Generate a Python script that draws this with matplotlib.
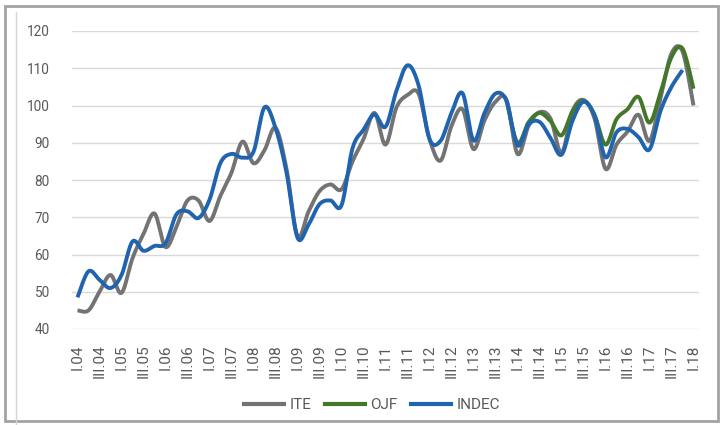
import numpy as np
import matplotlib
matplotlib.use('Agg')
import matplotlib.pyplot as plt
import matplotlib.transforms as mtransforms
from matplotlib.patches import Rectangle
from matplotlib.lines import Line2D

# ---- data (quarterly, I.04 .. I.18) ----
tick_labels = ['I.04', 'III.04', 'I.05', 'III.05', 'I.06', 'III.06', 'I.07', 'III.07',
               'I.08', 'III.08', 'I.09', 'III.09', 'I.10', 'III.10', 'I.11', 'III.11',
               'I.12', 'III.12', 'I.13', 'III.13', 'I.14', 'III.14', 'I.15', 'III.15',
               'I.16', 'III.16', 'I.17', 'III.17', 'I.18']

ite = [45, 45, 50, 54.5, 49.7, 59, 65.5, 71, 62, 67.5,
       74.5, 74.5, 69, 75.8, 82, 90.3, 84.5, 88, 94, 83,
       65, 71.5, 77, 78.8, 77.5, 85, 91, 98, 89.5, 99.5,
       102.8, 103.2, 91, 85.2, 94.5, 99, 88.3, 96, 101, 101.5,
       87, 94.5, 98.2, 96.5, 87.3, 98.5, 101.5, 96.5, 83, 89.5,
       93, 97.5, 90.5, 102, 114, 114.5, 100]

ojf = [None] * 39 + [101.3, 90, 95.5, 98, 95.8, 92, 98.5, 101.2, 97.5, 89.5,
                     96.3, 99, 102.3, 95.4, 103.5, 113, 115.3, 104.5]

indec = [48.5, 55.5, 53.2, 51, 54.5, 63.5, 61, 62.3, 63, 70.8,
         71.6, 69.8, 74.7, 84.6, 87, 86, 87.6, 99.5, 94, 82,
         64.5, 68, 73.5, 74.5, 73.2, 88.5, 93.5, 97.6, 94.3, 104,
         110.8, 105.5, 91, 90.5, 98, 103.3, 90.6, 98, 103.2, 101.2,
         89.3, 94.9, 95.6, 91.3, 86.8, 95.9, 101, 97.3, 86.1, 92.8,
         93.7, 91.5, 88.2, 98.5, 105, 109.5, None]

series = [('ITE', ite, '#737373'), ('OJF', ojf, '#43782a'), ('INDEC', indec, '#2064b0')]


def smooth_xy(xs, ys, n=24):
    """Catmull-Rom (Excel-like) smoothing through the given points."""
    pts = np.column_stack([xs, ys]).astype(float)
    m = len(pts)
    out = [pts[0]]
    t = np.linspace(0, 1, n + 1)[1:]
    for i in range(m - 1):
        p0 = pts[i - 1] if i > 0 else pts[i]
        p1 = pts[i]
        p2 = pts[i + 1]
        p3 = pts[i + 2] if i + 2 < m else pts[i + 1]
        c1 = p1 + (p2 - p0) / 6.0
        c2 = p2 - (p3 - p1) / 6.0
        tt = t[:, None]
        seg = ((1 - tt) ** 3) * p1 + 3 * ((1 - tt) ** 2) * tt * c1 + 3 * (1 - tt) * tt ** 2 * c2 + tt ** 3 * p2
        out.extend(seg)
    out = np.array(out)
    return out[:, 0], out[:, 1]


fig = plt.figure(figsize=(7.2, 4.25), dpi=100)
ax = fig.add_axes([72 / 720, 1 - 329 / 425, (699 - 72) / 720, (329 - 31) / 425])

text_col = '#595959'
fam = ['Roboto', 'DejaVu Sans']

for name, vals, col in series:
    xs = [i for i, v in enumerate(vals) if v is not None]
    ys = [v for v in vals if v is not None]
    sx, sy = smooth_xy(xs, ys)
    ax.plot(sx, sy, color=col, lw=2.8, solid_capstyle='butt', solid_joinstyle='round', label=name)

n = len(ite)
ax.set_xlim(-0.5, n - 0.5)
ax.set_ylim(40, 120)
ax.set_yticks(np.arange(40, 121, 10))
ax.set_xticks(np.arange(0, n, 2))
ax.set_xticklabels(tick_labels, rotation=90, family=fam, fontsize=11, color=text_col)
offset = mtransforms.ScaledTranslation(4 / 100, 0, fig.dpi_scale_trans)
for lab in ax.get_xticklabels():
    lab.set_transform(lab.get_transform() + offset)
for lab in ax.get_yticklabels():
    lab.set_family(fam)
    lab.set_fontsize(9.8)
    lab.set_color(text_col)
ax.tick_params(axis='x', length=0, pad=11)
ax.tick_params(axis='y', length=0, pad=16)
ax.grid(axis='y', color='#d9d9d9', lw=1)
ax.set_axisbelow(True)
for s in ax.spines.values():
    s.set_visible(False)

handles = [Line2D([], [], color=c, lw=3) for _, _, c in series]
leg = fig.legend(handles, [s[0] for s in series], loc='center', bbox_to_anchor=(372 / 720, 1 - 405 / 425),
                 ncol=3, frameon=False, handlelength=2.6, handletextpad=0.35, columnspacing=0.9,
                 prop={'family': fam, 'size': 11})
for t in leg.get_texts():
    t.set_color(text_col)

# outer frame of the screenshot
fig.add_artist(Rectangle((5 / 720, 1 - 421 / 425), (718 - 5) / 720, (421 - 6) / 425,
                         transform=fig.transFigure, fill=False, ec='#a3a3a3', lw=2))
fig.add_artist(Line2D([16 / 720, 16 / 720], [0, 1 - 12 / 425], transform=fig.transFigure,
                      color='#d6d6d6', lw=1))

fig.savefig('out.png', dpi=100)
